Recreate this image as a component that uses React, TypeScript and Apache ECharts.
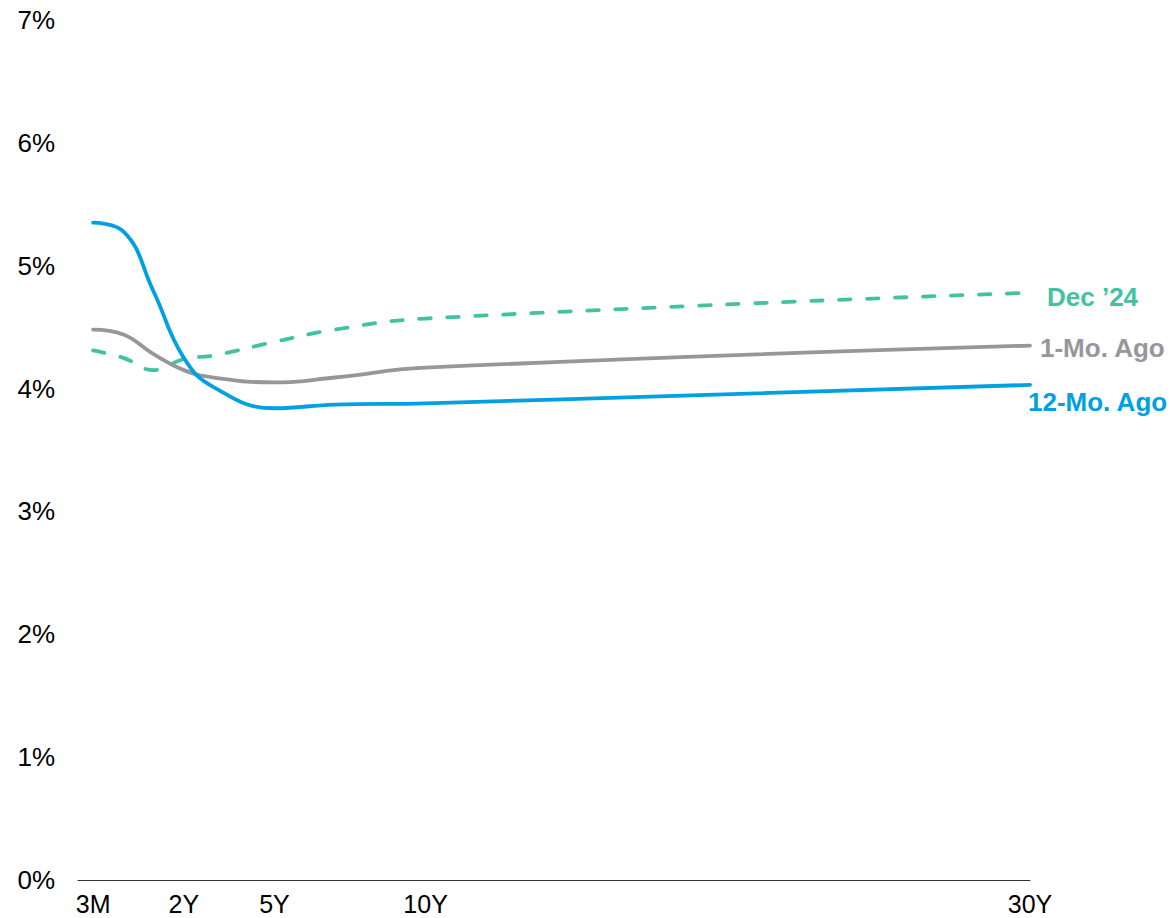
import React, { useEffect, useRef } from "react";
import * as echarts from "echarts";

// Maturities and their positions along the x axis (chart units)
const maturities = ["3M", "6M", "1Y", "2Y", "3Y", "5Y", "7Y", "10Y", "30Y"];
const maturityPos = [-1, 0, 1, 2, 3, 5, 7, 10, 30];

// Tick labels shown on the x axis
const tickLabels = ["3M", "2Y", "5Y", "10Y", "30Y"];

// Yields (%)
const dec24 = [4.31, 4.25, 4.15, 4.24, 4.27, 4.38, 4.48, 4.57, 4.78];
const oneMoAgo = [4.48, 4.44, 4.28, 4.15, 4.09, 4.05, 4.09, 4.17, 4.35];
const twelveMoAgo = [5.35, 5.28, 4.79, 4.25, 4.01, 3.84, 3.87, 3.88, 4.03];

const FONT = '"Liberation Sans", Arial, sans-serif';

function pairs(vals: number[]) {
  return vals.map((v, i) => [maturityPos[i], v]);
}

export default function App() {
  const ref = useRef<HTMLDivElement>(null);
  useEffect(() => {
    if (!ref.current) return;
    const chart = echarts.init(ref.current, undefined, { renderer: "svg" });
    const posToLabel: Record<string, string> = {};
    tickLabels.forEach((t) => {
      const idx = maturities.indexOf(t);
      posToLabel[String(maturityPos[idx])] = t;
    });
    const mkSeries = (name: string, data: number[], color: string, dashed: boolean, offset: number[]) => ({
      name,
      type: "line",
      data: pairs(data),
      smooth: 0.45,
      symbol: "none",
      lineStyle: {
        color,
        width: 3.8,
        type: dashed ? [11.5, 16.5] : "solid",
        cap: "round",
      },
      endLabel: {
        show: true,
        formatter: name,
        color,
        fontFamily: FONT,
        fontWeight: "bold",
        fontSize: 26,
        distance: 0,
        offset,
      },
      emphasis: { disabled: true },
    });
    chart.setOption({
      animation: false,
      backgroundColor: "#fff",
      textStyle: { fontFamily: FONT },
      grid: { left: 78, right: 140, top: 20, bottom: 38, containLabel: false },
      xAxis: {
        type: "value",
        min: -1.5,
        max: 30,
        interval: 0.5,
        axisLine: { show: true, lineStyle: { color: "#333", width: 1 } },
        axisTick: { show: false },
        splitLine: { show: false },
        axisLabel: {
          color: "#000",
          fontSize: 25,
          fontFamily: FONT,
          margin: 11,
          showMinLabel: true,
          showMaxLabel: true,
          formatter: (v: number) => posToLabel[String(v)] || "",
        },
      },
      yAxis: {
        type: "value",
        min: 0,
        max: 7,
        interval: 1,
        axisLine: { show: false },
        axisTick: { show: false },
        splitLine: { show: false },
        axisLabel: {
          color: "#000",
          fontSize: 26,
          fontFamily: FONT,
          margin: 23,
          formatter: "{value}%",
        },
      },
      series: [
        mkSeries("Dec ’24", dec24, "#41C3A1", true, [17, 4]),
        mkSeries("1-Mo. Ago", oneMoAgo, "#97969B", false, [10, 2]),
        mkSeries("12-Mo. Ago", twelveMoAgo, "#00A0E1", false, [-2, 17]),
      ],
    });
    return () => chart.dispose();
  }, []);
  return (
    <div
      ref={ref}
      style={{ position: "fixed", left: 0, top: 0, width: 1170, height: 918 }}
    />
  );
}
